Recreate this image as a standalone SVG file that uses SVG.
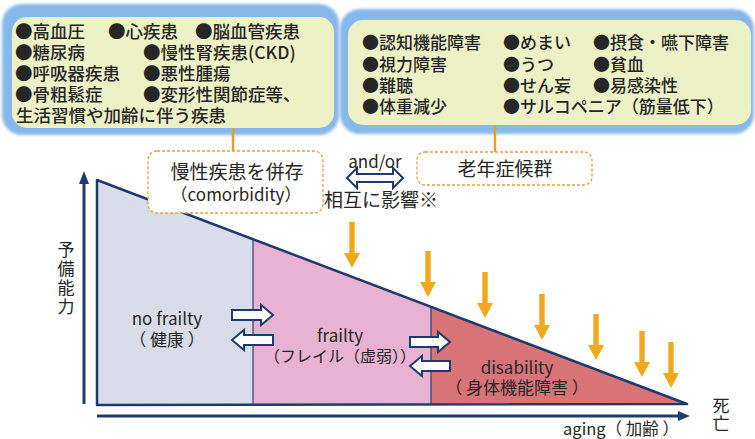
<svg xmlns="http://www.w3.org/2000/svg" xmlns:xlink="http://www.w3.org/1999/xlink" width="755" height="439" viewBox="0 0 755 439">
<style>
  text { font-family: "Noto Sans CJK JP", "Noto Sans", sans-serif; fill: #262626; }
  .lst { font-size: 17.5px; font-weight: 500; }
  .lst2 { font-size: 17px; font-weight: 500; }
  .lbl { font-size: 17px; text-anchor: middle; }
  .vert { font-size: 17px; writing-mode: vertical-rl; letter-spacing: 2px; }
  .glow { fill: #86b8ea; filter: url(#blur); }
  .inner { fill: #edf1c6; }
  .dbox { fill: #ffffff; stroke: #e0a040; stroke-width: 1.3; stroke-dasharray: 3 2; }
  .conn { stroke: #e8a020; stroke-width: 2.5; fill: none; }
  .blk { fill: #ffffff; stroke: #1f3a6e; stroke-width: 2; stroke-linejoin: miter; }
  .axis { stroke: #1f3a6e; stroke-width: 3; fill: none; }
  .oarr { fill: #f2a81d; }
</style>
<defs>
  <filter id="blur" x="-5%" y="-10%" width="110%" height="120%">
    <feGaussianBlur stdDeviation="1.5"/>
  </filter>
  <path id="oa" class="oarr" d="M-2.7,-46 H2.7 V-15 H8 L0,0 L-8,-15 H-2.7 Z"/>
</defs>

<!-- chart regions -->
<g id="chart">
  <polygon points="97,180 253,239 253,405 97,405" fill="#d9dde9"/>
  <polygon points="253,239 431,306.5 431,405 253,405" fill="#e8b3d2"/>
  <polygon points="431,306.5 687,404 687,405 431,405" fill="#d87378"/>
  <line x1="253" y1="239" x2="253" y2="405" stroke="#2a3f70" stroke-width="1.2"/>
  <line x1="431" y1="306.5" x2="431" y2="405" stroke="#2a3f70" stroke-width="1.2"/>
  <polygon points="97,180 687,404 97,405" fill="none" stroke="#1f3a6e" stroke-width="2.5" stroke-linejoin="round"/>
</g>

<!-- axes -->
<g id="axes">
  <line class="axis" x1="84" y1="404" x2="84" y2="182"/>
  <polygon points="84,171 79,184 89,184" fill="#1f3a6e"/>
  <line class="axis" x1="97" y1="416" x2="680" y2="416"/>
  <polygon points="690,416 678,411 678,421" fill="#1f3a6e"/>
  <text class="vert" x="66" y="241">予備能力</text>
  <text class="vert" x="721" y="397" style="letter-spacing:1px">死亡</text>
  <text class="lbl" x="621" y="435" style="font-size:16.5px">aging（ 加齢 ）</text>
</g>

<!-- left box -->
<g id="box-diseases">
  <rect class="glow" x="2" y="4" width="337" height="131" rx="20"/>
  <rect class="inner" x="12" y="17" width="322" height="111" rx="15"/>
  <text class="lst"><tspan x="15" y="38">●高血圧</tspan><tspan x="108" y="38">●心疾患</tspan><tspan x="195" y="38">●脳血管疾患</tspan><tspan x="15" y="59">●糖尿病</tspan><tspan x="143" y="59">●慢性腎疾患(CKD)</tspan><tspan x="15" y="80">●呼吸器疾患</tspan><tspan x="143" y="80">●悪性腫瘍</tspan><tspan x="15" y="101">●骨粗鬆症</tspan><tspan x="143" y="101">●変形性関節症等、</tspan><tspan x="16" y="122">生活習慣や加齢に伴う疾患</tspan></text>
</g>

<!-- right box -->
<g id="box-geriatric">
  <rect class="glow" x="340" y="9" width="414" height="125" rx="20"/>
  <rect class="inner" x="348" y="20" width="403" height="105" rx="15"/>
  <text class="lst2"><tspan x="362" y="49">●認知機能障害</tspan><tspan x="503" y="49">●めまい</tspan><tspan x="593" y="49">●摂食・嚥下障害</tspan><tspan x="362" y="71">●視力障害</tspan><tspan x="503" y="71">●うつ</tspan><tspan x="593" y="71">●貧血</tspan><tspan x="362" y="92">●難聴</tspan><tspan x="503" y="92">●せん妄</tspan><tspan x="593" y="92">●易感染性</tspan><tspan x="362" y="113">●体重減少</tspan><tspan x="503" y="113">●サルコペニア（筋量低下）</tspan></text>
</g>

<!-- connectors -->
<g id="connectors">
  <line class="conn" x1="233" y1="128" x2="233" y2="151"/>
  <line class="conn" x1="495" y1="125" x2="495" y2="152"/>
  <path class="blk" d="M347,178 L357,168 V174 H393 V168 L403,178 L393,188 V182 H357 V188 Z"/>
  <path class="blk" d="M232,310 H261 V305 L273,315 L261,325 V320 H232 Z"/>
  <path class="blk" d="M273,335 H244 V330 L232,340 L244,350 V345 H273 Z"/>
  <path class="blk" d="M410,337 H438 V332 L450,342 L438,352 V347 H410 Z"/>
  <path class="blk" d="M450,361 H422 V356 L410,366 L422,376 V371 H450 Z"/>
  <use xlink:href="#oa" x="352" y="268"/>
  <use xlink:href="#oa" x="428" y="297"/>
  <use xlink:href="#oa" x="485" y="318"/>
  <use xlink:href="#oa" x="542" y="340"/>
  <use xlink:href="#oa" x="596" y="360"/>
  <use xlink:href="#oa" x="642" y="377"/>
  <use xlink:href="#oa" x="671" y="388"/>
</g>

<!-- comorbidity box -->
<g id="box-comorbidity">
  <rect class="dbox" x="148" y="151" width="175" height="62" rx="9"/>
  <text class="lbl"><tspan x="237" y="179" style="font-size:19px">慢性疾患を併存</tspan><tspan x="236" y="201">（comorbidity）</tspan></text>
</g>

<!-- geriatric syndrome box -->
<g id="box-syndrome">
  <rect class="dbox" x="417" y="152" width="175" height="33" rx="8"/>
  <text class="lbl" x="505" y="176" style="font-size:19px">老年症候群</text>
</g>

<!-- interaction labels -->
<g id="interaction">
  <text class="lbl"><tspan x="375" y="168">and/or</tspan><tspan x="381" y="207" style="font-size:19px">相互に影響※</tspan></text>
</g>

<!-- stage labels -->
<g id="stage-nofrailty">
  <text class="lbl"><tspan x="167" y="325">no frailty</tspan><tspan x="167" y="346">（ 健康 ）</tspan></text>
</g>
<g id="stage-frailty">
  <text class="lbl"><tspan x="340" y="342">frailty</tspan><tspan x="340" y="362" style="font-size:16px">（フレイル（虚弱））</tspan></text>
</g>
<g id="stage-disability">
  <text class="lbl"><tspan x="517" y="374">disability</tspan><tspan x="517" y="394">（ 身体機能障害 ）</tspan></text>
</g>
</svg>
